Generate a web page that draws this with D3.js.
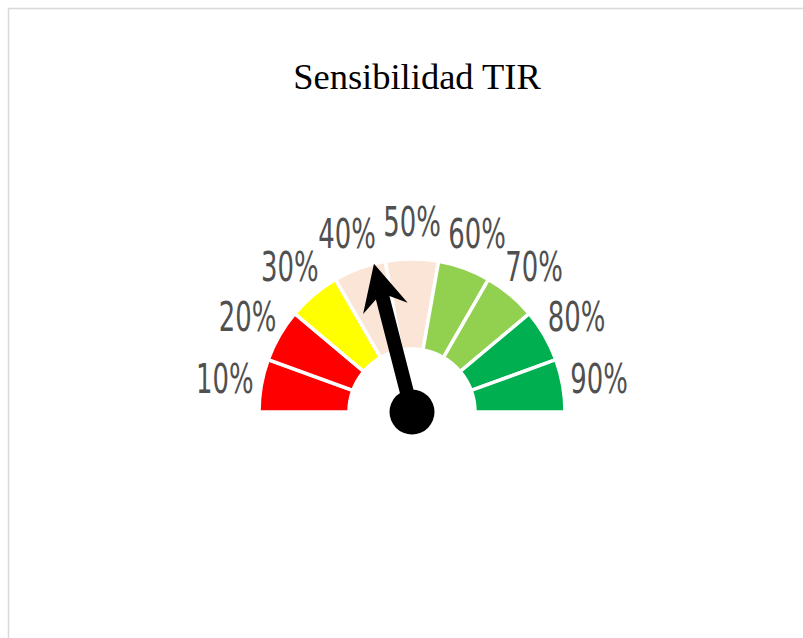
<!doctype html>
<meta charset="utf-8">
<script src="https://d3js.org/d3.v7.min.js"></script>
<style>
  body { margin: 0; background: #fff; }
</style>
<body></body>
<script>

var width = 803;
var height = 638;

// data
var categories = ["10%", "20%", "30%", "40%", "50%", "60%", "70%", "80%", "90%"];
var segmentValues = [1, 1, 1, 1, 1, 1, 1, 1, 1];
var segmentColors = ["#ff0000", "#ff0000", "#ffff00", "#fbe5d6", "#fbe5d6", "#92d050", "#92d050", "#00b050", "#00b050"];
var needleValue = 0.42;
var title = "Sensibilidad TIR";

var cx = 412, cy = 412;
var outerR = 153, innerR = 63, labelR = 190;

var svg = d3.select("body")
        .append("svg")
        .attr("width", width)
        .attr("height", height);

// chart border
svg.append("rect")
        .attr("x", 8.5)
        .attr("y", 8.5)
        .attr("width", width)
        .attr("height", height)
        .attr("fill", "none")
        .attr("stroke", "#d9d9d9")
        .attr("stroke-width", 1.5);

svg.append("text")
        .attr("x", 417)
        .attr("y", 89)
        .attr("text-anchor", "middle")
        .style("font-family", "'Liberation Serif', 'Times New Roman', serif")
        .style("font-size", "36.5px")
        .attr("fill", "#000")
        .text(title);

var color = d3.scaleOrdinal()
        .domain(categories)
        .range(segmentColors);

var pie = d3.pie()
        .sort(null)
        .startAngle(-Math.PI / 2)
        .endAngle(Math.PI / 2);

var arcs = pie(segmentValues);

var arc = d3.arc()
        .innerRadius(innerR)
        .outerRadius(outerR);

var labelArc = d3.arc()
        .innerRadius(labelR)
        .outerRadius(labelR);

var g = svg.append("g")
        .attr("transform", "translate(" + cx + "," + cy + ")");

g.selectAll("path.seg")
        .data(arcs)
        .enter()
        .append("path")
        .attr("class", "seg")
        .attr("d", arc)
        .attr("fill", function(d, i){ return color(categories[i]); })
        .attr("stroke", "#fff")
        .attr("stroke-width", 3.5);

g.selectAll("text.lbl")
        .data(arcs)
        .enter()
        .append("text")
        .attr("class", "lbl")
        .attr("transform", function(d){
            var c = labelArc.centroid(d);
            return "translate(" + c[0] + "," + c[1] + ") scale(0.72,1)";
        })
        .attr("text-anchor", "middle")
        .attr("dy", "0.36em")
        .style("font-family", "'Liberation Sans Narrow', 'DejaVu Sans Condensed', 'Arial Narrow', sans-serif")
        .style("font-stretch", "condensed")
        .style("font-size", "40px")
        .attr("fill", "#505050")
        .text(function(d, i){ return categories[i]; });

// needle
var needleAngle = d3.scaleLinear()
        .domain([0, 1])
        .range([-90, 90]);

var needleShape = [[-7, 0], [-7, -118], [-23, -107], [0, -153], [23, -107], [7, -118], [7, 0]];

g.append("path")
        .attr("d", d3.line()(needleShape) + "Z")
        .attr("transform", "rotate(" + needleAngle(needleValue) + ")")
        .attr("fill", "#000");

g.append("circle")
        .attr("r", 22.5)
        .attr("fill", "#000");

</script>
